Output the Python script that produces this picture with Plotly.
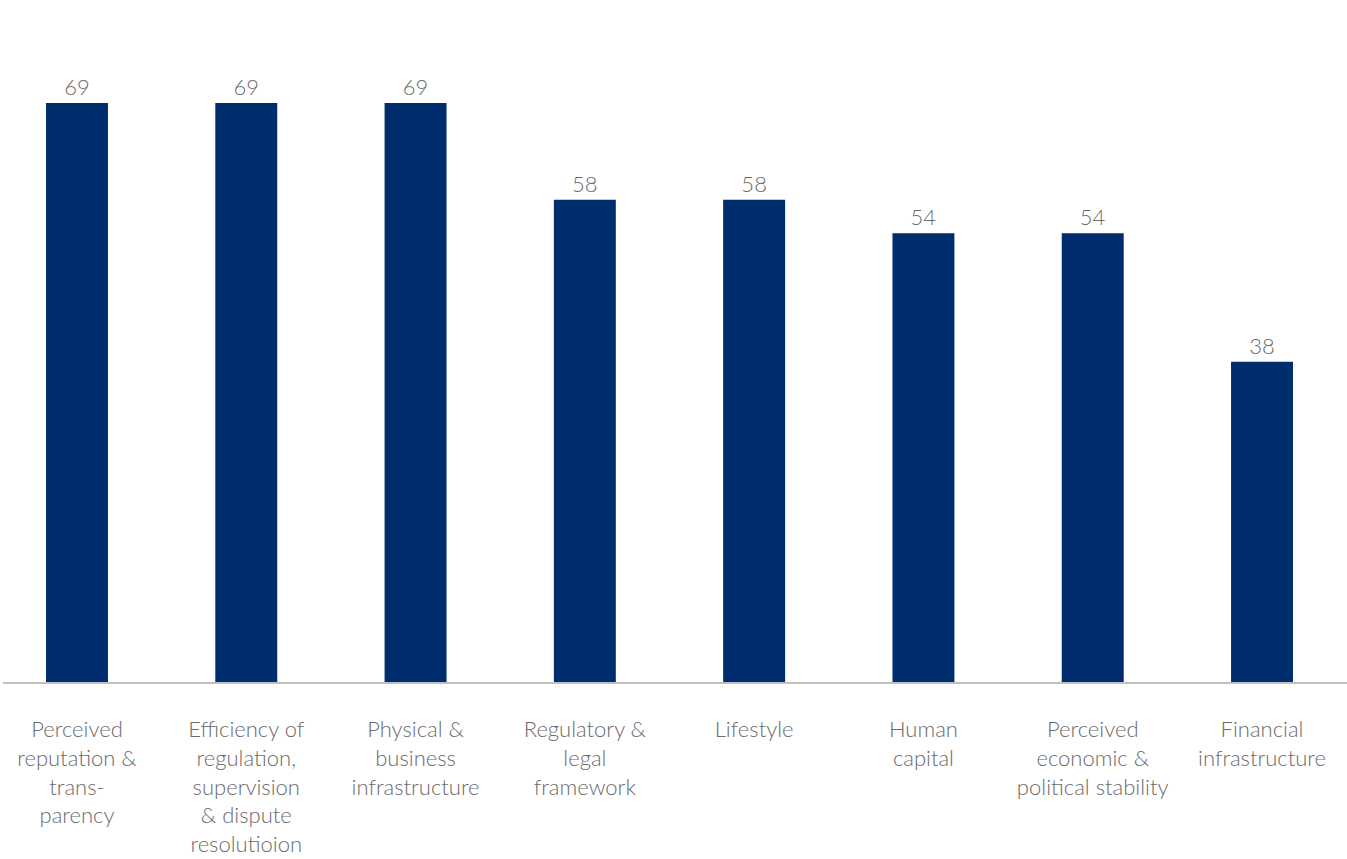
import plotly.graph_objects as go

categories = [
    "Perceived<br>reputation &<br>trans-<br>parency",
    "Efficiency of<br>regulation,<br>supervision<br>& dispute<br>resolutioion",
    "Physical &<br>business<br>infrastructure",
    "Regulatory &<br>legal<br>framework",
    "Lifestyle",
    "Human<br>capital",
    "Perceived<br>economic &<br>political stability",
    "Financial<br>infrastructure",
]
values = [69.4, 69.4, 69.4, 57.8, 57.8, 53.8, 53.8, 38.4]
value_labels = ["69", "69", "69", "58", "58", "54", "54", "38"]

BAR_COLOR = "#002D6E"
TEXT_COLOR = "#6b6b6b"
FONT = "Lato"

fig = go.Figure(
    go.Bar(
        x=list(range(len(categories))),
        y=values,
        width=0.366,
        marker=dict(color=BAR_COLOR, line=dict(width=0)),
        text=value_labels,
        textposition="outside",
        textfont=dict(family=FONT, size=22, color=TEXT_COLOR, weight=300),
        cliponaxis=False,
        hoverinfo="skip",
    )
)

fig.update_layout(
    width=1347,
    height=859,
    margin=dict(l=3, r=0, t=0, b=177, autoexpand=False),
    plot_bgcolor="white",
    paper_bgcolor="white",
    showlegend=False,
    font=dict(family=FONT, size=22, color=TEXT_COLOR, weight=300),
    xaxis=dict(
        range=[-0.437, 7.502],
        tickmode="array",
        tickvals=list(range(len(categories))),
        ticktext=categories,
        showgrid=False,
        zeroline=False,
        showline=True,
        linecolor="#bfbfbf",
        linewidth=2,
        ticks="",
        automargin=False,
        tickfont=dict(family=FONT, size=22, color=TEXT_COLOR, weight=300),
        ticklabelstandoff=27,
    ),
    yaxis=dict(
        range=[0, 81.75],
        visible=False,
        showgrid=False,
        zeroline=False,
    ),
)

fig.write_html(
    "out.html",
    config={"displayModeBar": False},
    post_script="document.body.style.margin='0';document.body.style.overflow='hidden';",
)
